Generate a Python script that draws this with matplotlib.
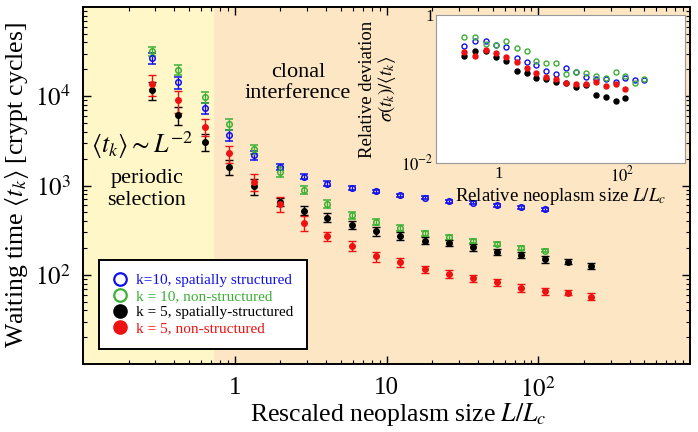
import numpy as np
import matplotlib
matplotlib.use('Agg')
import matplotlib.pyplot as plt
from matplotlib import rcParams
from matplotlib.lines import Line2D
from matplotlib.ticker import LogLocator, NullFormatter

rcParams['font.family'] = 'serif'
rcParams['font.serif'] = ['Liberation Serif', 'DejaVu Serif']
rcParams['mathtext.fontset'] = 'stix'
rcParams['xtick.direction'] = 'in'
rcParams['ytick.direction'] = 'in'
rcParams['xtick.top'] = True
rcParams['ytick.right'] = True

# ---- data ----
L_size = [0.283, 0.424, 0.635, 0.917, 1.34, 1.98, 2.84, 4.07, 5.91, 8.56,
          12.3, 17.8, 25.7, 37.0, 53.5, 77.3, 111, 156, 224]

t_k10_ss = [26500, 14300, 7360, 3680, 2190, 1620, 1250, 1050, 935, 860,
            777, 731, 664, 645, 598, 573, 540]
e_k10_ss = [3800, 2200, 1100, 500, 260, 130, 80, 60, 45, 40,
            35, 30, 25, 25, 22, 20, 20]
t_k10_ns = [32000, 19600, 9800, 4860, 2540, 1420, 900, 627, 462, 395,
            336, 292, 263, 242, 222, 200, 186]
e_k10_ns = [4000, 2500, 1450, 650, 300, 180, 90, 60, 38, 30,
            25, 20, 15, 12, 10, 10, 8]
t_k5_ss = [11800, 6200, 3100, 1620, 980, 653, 525, 437, 363, 307,
           275, 242, 228, 204, 182, 168, 150, 141, 126]
e_k5_ss = [2700, 1450, 660, 320, 190, 65, 60, 50, 40, 33,
           27, 22, 18, 18, 15, 14, 13, 10, 11]
t_k5_ns = [13800, 8970, 4570, 2290, 1100, 627, 380, 270, 212, 161,
           138, 116, 102.6, 91.8, 83, 72, 66, 63.3, 57]
e_k5_ns = [3700, 2500, 1000, 480, 230, 120, 73, 32, 25, 21,
           15, 10, 11, 8, 8, 7, 6, 4, 5]

# inset: relative deviation sigma/<t>
r_k10_ns = [0.50, 0.509, 0.407, 0.397, 0.45, 0.355, 0.33, 0.236, 0.227, 0.227,
            0.16, 0.171, 0.166, 0.151, 0.141, 0.168, 0.151, 0.122, 0.136]
r_k10_ss = [0.387, 0.45, 0.445, 0.399, 0.366, 0.265, 0.234, 0.211, 0.176, 0.160,
            0.19, 0.171, 0.144, 0.136, 0.136, 0.126, 0.142, 0.132, 0.132]
r_k5_ns = [0.313, 0.282, 0.336, 0.31, 0.273, 0.234, 0.19, 0.166, 0.144, 0.136,
           0.122, 0.117, 0.116, 0.123, 0.111, 0.117, 0.1]
r_k5_ss = [0.279, 0.33, 0.323, 0.268, 0.239, 0.173, 0.166, 0.142, 0.136, 0.123,
           0.119, 0.105, 0.113, 0.083, 0.079, 0.0695, 0.0749]

labels = ['k=10, spatially structured', 'k = 10, non-structured',
          'k = 5, spatially-structured', 'k = 5, non-structured']
c_blue = '#1010ee'
c_green = '#3cb034'
c_black = '#000000'
c_red = '#ee1111'

# ---- main plot ----
fig = plt.figure(figsize=(6.98, 4.32), dpi=100)
ax = fig.add_axes([0.119, 0.157, 0.8695, 0.827])
ax.set_xscale('log')
ax.set_yscale('log')
ax.set_xlim(0.1, 1000)
ax.set_ylim(10, 1e5)
ax.set_facecolor('#fce6c3')
ax.axvspan(0.1, 0.716, color='#fff7c8', zorder=0)

eb = dict(ms=4, elinewidth=1.0, capsize=2.6, capthick=1.0, ls='none')
n10 = len(t_k10_ss)
ax.errorbar(L_size[:n10], t_k10_ss, yerr=e_k10_ss, fmt='o', color=c_blue,
            mfc='none', mew=1.1, **eb)
ax.errorbar(L_size[:n10], t_k10_ns, yerr=e_k10_ns, fmt='o', color=c_green,
            mfc='none', mew=1.1, **eb)
ax.errorbar(L_size, t_k5_ss, yerr=e_k5_ss, fmt='o', color=c_black, **eb)
ax.errorbar(L_size, t_k5_ns, yerr=e_k5_ns, fmt='o', color=c_red, **eb)

ax.set_xticks([1, 10, 100], ['1', '10', r'$10^2$'])
ax.set_yticks([100, 1000, 10000], [r'$10^2$', r'$10^3$', r'$10^4$'])
ax.xaxis.set_minor_locator(LogLocator(base=10, subs=np.arange(2, 10)))
ax.yaxis.set_minor_locator(LogLocator(base=10, subs=np.arange(2, 10)))
ax.xaxis.set_minor_formatter(NullFormatter())
ax.yaxis.set_minor_formatter(NullFormatter())
ax.tick_params(which='major', length=6, width=1.0, labelsize=18, pad=9)
ax.tick_params(which='minor', length=3, width=0.8)
for s in ax.spines.values():
    s.set_linewidth(1.4)

ax.set_xlabel(r'Rescaled neoplasm size $L/L_c$', fontsize=18.5)
ax.xaxis.set_label_coords(0.519, -0.102, transform=ax.transAxes)
ax.xaxis.label.set_va('top')
ax.set_ylabel(r'Waiting time $\langle t_k\rangle$ [crypt cycles]', fontsize=18.5, labelpad=3)

ax.text(0.354, 0.786, 'clonal\ninterference', transform=ax.transAxes,
        ha='center', va='center', fontsize=16, linespacing=1.15)
ax.text(0.097, 0.612, r'$\langle t_k\rangle \sim L^{-2}$', transform=ax.transAxes,
        ha='center', va='center', fontsize=18.5)
ax.text(0.105, 0.489, 'periodic\nselection', transform=ax.transAxes,
        ha='center', va='center', fontsize=16, linespacing=1.15)

handles = [Line2D([], [], ls='none', marker='o', ms=9, mfc='none', mec=c_blue, mew=1.6),
           Line2D([], [], ls='none', marker='o', ms=9, mfc='none', mec=c_green, mew=1.6),
           Line2D([], [], ls='none', marker='o', ms=9.5, color=c_black),
           Line2D([], [], ls='none', marker='o', ms=9.5, color=c_red)]
leg = ax.legend(handles, labels, loc='lower left', bbox_to_anchor=(0.026, 0.042),
                borderaxespad=0, fontsize=11, fancybox=False, framealpha=1,
                edgecolor='black', handlelength=1.0, handletextpad=0.55,
                labelspacing=0.15, borderpad=0.9,
                labelcolor=[c_blue, c_green, c_black, c_red])
leg.get_frame().set_linewidth(1.4)

# ---- inset ----
axi = fig.add_axes([0.625, 0.623, 0.356, 0.342])
axi.set_xscale('log')
axi.set_yscale('log')
axi.set_xlim(0.1, 1000)
axi.set_ylim(0.01, 1)
axi.set_facecolor('white')
axi.plot(L_size[:len(r_k10_ss)], r_k10_ss, 'o', ms=3.6, mfc='none', mec=c_blue, mew=1.0)
axi.plot(L_size[:len(r_k10_ns)], r_k10_ns, 'o', ms=3.6, mfc='none', mec=c_green, mew=1.0)
axi.plot(L_size[:len(r_k5_ss)], r_k5_ss, 'o', ms=3.6, color=c_black)
axi.plot(L_size[:len(r_k5_ns)], r_k5_ns, 'o', ms=3.6, color=c_red)
axi.set_xticks([0.1, 1, 10, 100, 1000], ['', '1', '', r'$10^2$', ''])
axi.set_yticks([0.01, 0.1, 1], [r'$10^{-2}$', '', '1'])
axi.xaxis.set_minor_locator(LogLocator(base=10, subs=np.arange(2, 10)))
axi.yaxis.set_minor_locator(LogLocator(base=10, subs=np.arange(2, 10)))
axi.xaxis.set_minor_formatter(NullFormatter())
axi.yaxis.set_minor_formatter(NullFormatter())
axi.tick_params(which='both', length=0, labelsize=12, pad=2)
for s in axi.spines.values():
    s.set_color('#999999')
    s.set_linewidth(0.8)
axi.set_xlabel(r'Relative neoplasm size $L/L_c$', fontsize=13.5, labelpad=0)
axi.set_ylabel('Relative deviation\n' + r'$\sigma(t_k)/\langle t_k\rangle$', fontsize=13.5,
               labelpad=2, linespacing=1.0)

fig.savefig('out.png', dpi=100)
